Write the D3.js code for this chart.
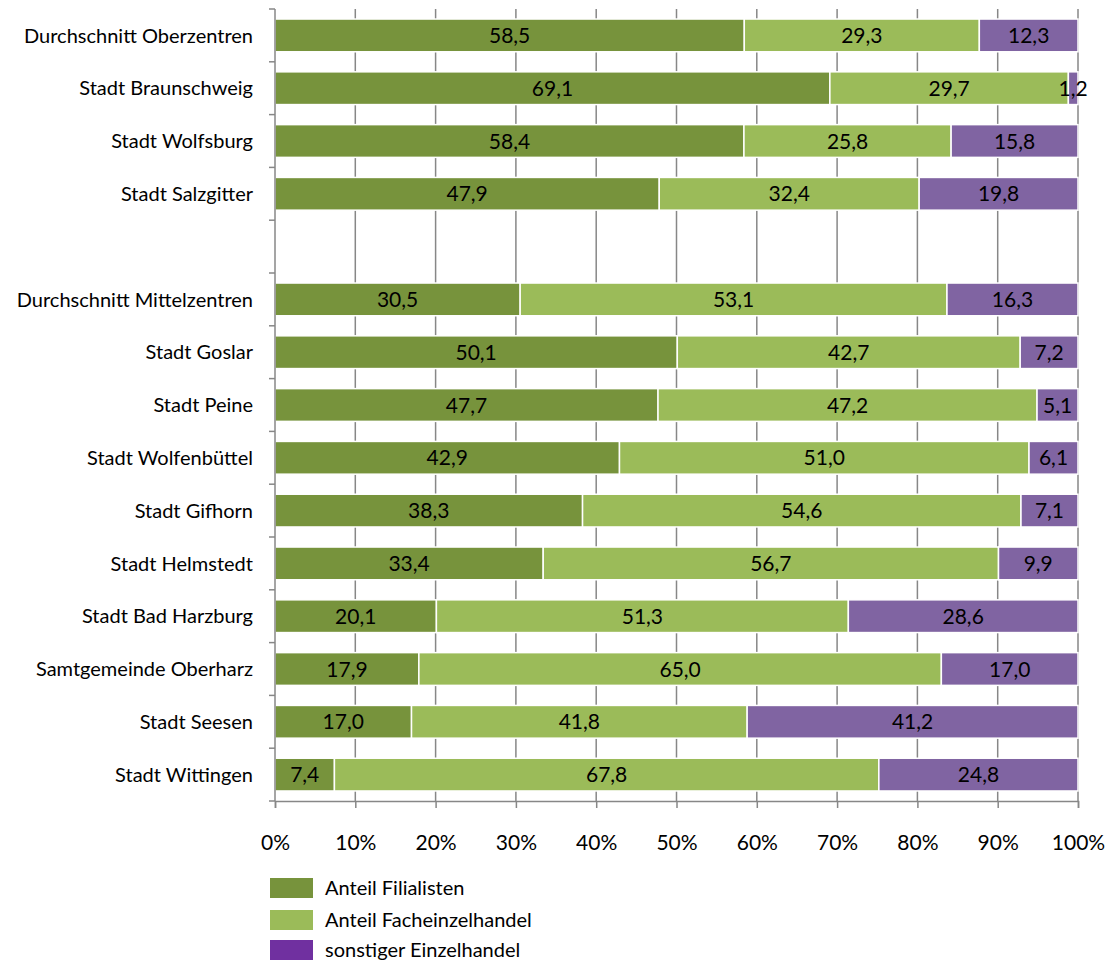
<!DOCTYPE html>
<html><head><meta charset="utf-8">
<script src="https://cdn.jsdelivr.net/npm/d3@7"></script>
<style>body{margin:0;background:#fff;} svg{display:block;}</style>
</head><body>
<svg id="chart" width="1110" height="960"></svg>
<script>
const categories = ["Durchschnitt Oberzentren","Stadt Braunschweig","Stadt Wolfsburg","Stadt Salzgitter","",
  "Durchschnitt Mittelzentren","Stadt Goslar","Stadt Peine","Stadt Wolfenbüttel","Stadt Gifhorn","Stadt Helmstedt",
  "Stadt Bad Harzburg","Samtgemeinde Oberharz","Stadt Seesen","Stadt Wittingen"];
const filialisten = [58.5,69.1,58.4,47.9,null,30.5,50.1,47.7,42.9,38.3,33.4,20.1,17.9,17.0,7.4];
const facheinzel  = [29.3,29.7,25.8,32.4,null,53.1,42.7,47.2,51.0,54.6,56.7,51.3,65.0,41.8,67.8];
const sonstiger   = [12.3,1.2,15.8,19.8,null,16.3,7.2,5.1,6.1,7.1,9.9,28.6,17.0,41.2,24.8];
const seriesNames = ["Anteil Filialisten","Anteil Facheinzelhandel","sonstiger Einzelhandel"];
const tickValues = [0,0.1,0.2,0.3,0.4,0.5,0.6,0.7,0.8,0.9,1.0];

const barColors = ["#77933C","#9BBB59","#8064A2"];
const legendColors = ["#77933C","#9BBB59","#7030A0"];
const font = "Lato, 'Open Sans', sans-serif";

const svg = d3.select("#chart");
const mLeft = 275, mRight = 1078, mTop = 9, mBottom = 801;
const x = d3.scaleLinear().domain([0,1]).range([mLeft,mRight]);
const y = d3.scaleBand().domain(d3.range(categories.length)).range([mTop,mBottom]).paddingInner(0.38).paddingOuter(0.19);

// gridlines
svg.append("g").selectAll("line").data(tickValues.slice(1)).join("line")
  .attr("x1", d=>x(d)).attr("x2", d=>x(d)).attr("y1", mTop).attr("y2", mBottom)
  .attr("stroke","#878787").attr("stroke-width",1.5);

// bars
const rows = categories.map((c,i)=>({i, vals:[filialisten[i],facheinzel[i],sonstiger[i]]})).filter(r=>r.vals[0]!=null);
const g = svg.append("g");
rows.forEach(r=>{
  const total = d3.sum(r.vals);
  let acc = 0;
  r.vals.forEach((v,k)=>{
    const x0 = x(acc/total), x1 = x((acc+v)/total);
    acc += v;
    g.append("rect").attr("x",x0).attr("y",y(r.i)).attr("width",x1-x0).attr("height",y.bandwidth())
      .attr("fill",barColors[k]).attr("stroke","#fff").attr("stroke-width",1.5);
  });
});
rows.forEach(r=>{
  const total = d3.sum(r.vals);
  let acc = 0;
  r.vals.forEach((v,k)=>{
    const x0 = x(acc/total), x1 = x((acc+v)/total);
    acc += v;
    g.append("text").attr("x",(x0+x1)/2).attr("y",y(r.i)+y.bandwidth()/2).attr("dy","0.36em")
      .attr("text-anchor","middle").attr("font-family",font).attr("font-size",21).attr("fill","#000")
      .text(d3.format(".1f")(v).replace(".",","));
  });
});

// left axis
const axisColor = "#878787";
svg.append("line").attr("x1",mLeft).attr("x2",mLeft).attr("y1",mTop).attr("y2",mBottom).attr("stroke",axisColor).attr("stroke-width",1.5);
const bounds = d3.range(categories.length+1).map(i=>mTop + i*(mBottom-mTop)/categories.length);
svg.append("g").selectAll("line").data(bounds).join("line")
  .attr("x1",mLeft-6).attr("x2",mLeft).attr("y1",d=>d).attr("y2",d=>d).attr("stroke",axisColor).attr("stroke-width",1.5);
svg.append("g").selectAll("text").data(categories).join("text")
  .attr("x",253).attr("y",(d,i)=>y(i)+y.bandwidth()/2).attr("dy","0.36em")
  .attr("text-anchor","end").attr("font-family",font).attr("font-size",20).attr("fill","#000").text(d=>d);

// bottom axis
const xAxis = d3.axisBottom(x).tickValues(tickValues).tickSize(7).tickFormat(d3.format(".0%"));
const ax = svg.append("g").attr("transform",`translate(0,${mBottom})`).call(xAxis);
ax.select(".domain").attr("stroke",axisColor).attr("stroke-width",1.5);
ax.selectAll(".tick line").attr("stroke",axisColor).attr("stroke-width",1.5);
ax.selectAll(".tick text").attr("font-family",font).attr("font-size",21).attr("fill","#000").attr("y",41).attr("dy","0.36em");

// legend
const lg = svg.append("g");
seriesNames.forEach((n,k)=>{
  const yy = [878,910,940][k];
  lg.append("rect").attr("x",270).attr("y",yy).attr("width",43).attr("height",20).attr("fill",legendColors[k]);
  lg.append("text").attr("x",325).attr("y",yy+10).attr("dy","0.36em").attr("font-family",font).attr("font-size",20).attr("fill","#000").text(n);
});
</script>
</body></html>
